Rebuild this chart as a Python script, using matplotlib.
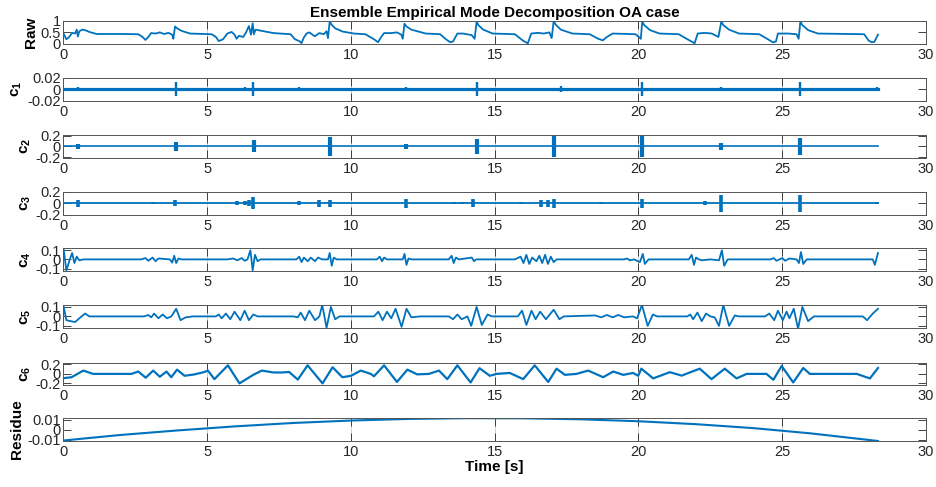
import numpy as np
import matplotlib
matplotlib.use('Agg')
import matplotlib.pyplot as plt

plt.rcParams['font.family'] = ['Liberation Sans', 'DejaVu Sans']
plt.rcParams['mathtext.fontset'] = 'custom'
plt.rcParams['mathtext.rm'] = 'Liberation Sans'
plt.rcParams['mathtext.bf'] = 'Liberation Sans:bold'

BLUE = '#0072BD'
T_END = 28.33

# ── Raw signal (vertices) ───────────────────────────────────
raw_t = [0.00, 0.10, 0.20, 0.30, 0.40, 0.46, 0.50, 0.55, 0.65, 0.75, 0.90, 1.15,
         2.00, 2.60, 2.75, 2.85, 2.95, 3.05, 3.20, 3.35, 3.50, 3.65, 3.78, 3.82,
         3.88, 3.95, 4.10, 4.40, 5.15, 5.30, 5.40, 5.55, 5.70, 5.85, 5.95, 6.02,
         6.10, 6.25, 6.35, 6.45, 6.52, 6.58, 6.62, 6.68, 6.85, 7.30, 7.90, 8.05,
         8.20, 8.28, 8.35, 8.45, 8.55, 8.74, 8.90, 9.05, 9.15, 9.20, 9.26, 9.32,
         9.45, 9.70, 10.10, 10.50, 10.80, 10.94, 11.05, 11.15, 11.40, 11.60, 11.75, 11.80,
         11.86, 11.93, 12.10, 12.60, 13.10, 13.30, 13.45, 13.55, 13.70, 13.90, 14.20, 14.30,
         14.37, 14.43, 14.60, 14.93, 15.70, 15.97, 16.15, 16.27, 16.50, 16.70, 16.90, 16.98,
         17.05, 17.12, 17.30, 17.70, 18.30, 18.60, 18.76, 18.90, 19.10, 19.90, 20.08, 20.13,
         20.20, 20.40, 20.73, 21.40, 21.70, 21.89, 21.95, 22.06, 22.30, 22.55, 22.78, 22.88,
         22.95, 23.15, 23.50, 24.20, 24.50, 24.68, 24.78, 24.85, 25.20, 25.50, 25.57, 25.63,
         25.70, 25.90, 26.24, 27.85, 28.00, 28.10, 28.20, 28.33]
raw_v = [0.45, 0.20, 0.30, 0.48, 0.45, 0.62, 0.32, 0.55, 0.62, 0.60, 0.52, 0.43,
         0.43, 0.42, 0.30, 0.17, 0.30, 0.47, 0.45, 0.50, 0.43, 0.48, 0.40, 0.22,
         0.76, 0.68, 0.57, 0.45, 0.42, 0.30, 0.12, 0.20, 0.45, 0.52, 0.40, 0.22,
         0.35, 0.30, 0.50, 0.78, 0.40, 0.90, 0.42, 0.62, 0.58, 0.47, 0.42, 0.20,
         0.12, 0.03, 0.25, 0.45, 0.50, 0.33, 0.47, 0.42, 0.55, 0.25, 1.00, 0.84,
         0.68, 0.54, 0.45, 0.42, 0.20, 0.07, 0.30, 0.47, 0.47, 0.50, 0.40, 0.22,
         0.88, 0.76, 0.62, 0.45, 0.42, 0.20, 0.07, 0.10, 0.45, 0.45, 0.38, 0.22,
         0.97, 0.82, 0.62, 0.45, 0.42, 0.15, 0.02, 0.45, 0.48, 0.45, 0.50, 0.25,
         1.00, 0.84, 0.62, 0.45, 0.42, 0.22, 0.15, 0.30, 0.45, 0.42, 0.22, 0.97,
         0.82, 0.60, 0.45, 0.42, 0.20, 0.07, 0.02, 0.45, 0.48, 0.45, 0.30, 0.97,
         0.82, 0.62, 0.45, 0.42, 0.20, 0.06, 0.10, 0.45, 0.45, 0.42, 0.22, 0.97,
         0.82, 0.60, 0.45, 0.42, 0.15, 0.07, 0.08, 0.40]

# ── c1: thin noise band with spikes ─────────────────────────
c1_burst_t = [0.49, 1.30, 2.40, 3.91, 4.70, 6.30, 6.60, 8.20, 9.90, 11.90, 13.00,
              14.39, 16.00, 17.30, 18.50, 19.60, 20.13, 21.30, 22.88, 23.80, 25.62,
              26.50, 27.40, 28.30]
c1_burst_a = [0.004, 0.002, 0.002, 0.012, 0.002, 0.004, 0.012, 0.003, 0.002, 0.003, 0.002,
              0.012, 0.002, 0.005, 0.002, 0.002, 0.012, 0.002, 0.004, 0.002, 0.012,
              0.002, 0.002, 0.003]

# ── c2: bursts ──────────────────────────────────────────────
c2_burst_t = [0.50, 3.91, 6.62, 9.27, 11.90, 14.37, 17.05, 20.13, 22.88, 25.63]
c2_burst_a = [0.05, 0.09, 0.11, 0.17, 0.05, 0.14, 0.20, 0.20, 0.06, 0.16]

# ── c3: bursts ──────────────────────────────────────────────
c3_burst_t = [0.50, 3.12, 3.88, 6.05, 6.30, 6.45, 6.60, 8.20, 8.90, 9.28, 11.90,
              13.60, 13.85, 14.25, 15.90, 16.60, 16.85, 17.05, 18.70, 20.13, 22.30,
              22.88, 25.63, 28.30]
c3_burst_a = [0.06, 0.015, 0.05, 0.03, 0.03, 0.05, 0.10, 0.03, 0.06, 0.06, 0.08,
              0.02, 0.02, 0.07, 0.015, 0.06, 0.06, 0.08, 0.015, 0.08, 0.03,
              0.15, 0.15, 0.015]

# ── c4 ──────────────────────────────────────────────────────
c4_t = [0.00, 0.10, 0.22, 0.30, 0.38, 0.46, 0.55, 0.70, 2.70, 2.85, 2.95, 3.10,
        3.20, 3.30, 3.70, 3.78, 3.85, 3.92, 4.00, 4.10, 5.70, 5.90, 6.05, 6.20,
        6.30, 6.40, 6.50, 6.58, 6.66, 6.75, 6.85, 8.10, 8.20, 8.28, 8.36, 8.50,
        8.60, 8.75, 8.85, 9.00, 9.20, 9.26, 9.33, 9.40, 9.50, 10.90, 11.00, 11.08,
        11.15, 11.25, 11.80, 11.86, 11.93, 12.00, 12.10, 13.40, 13.50, 13.57, 13.65, 13.75,
        14.20, 14.28, 14.35, 15.70, 15.90, 16.00, 16.10, 16.20, 16.30, 16.45, 16.55, 16.65,
        16.75, 16.85, 16.95, 17.05, 17.15, 19.50, 19.60, 19.70, 19.85, 20.05, 20.15, 20.22,
        20.35, 21.75, 21.85, 21.93, 22.00, 22.10, 22.20, 22.50, 22.80, 22.90, 22.98, 23.10,
        24.60, 24.70, 24.80, 25.00, 25.10, 25.25, 25.50, 25.58, 25.65, 25.73, 25.85, 28.15,
        28.22, 28.33]
c4_v = [0.12, -0.12, 0.00, 0.07, -0.04, 0.03, -0.01, 0.00, 0.00, 0.015, -0.015, 0.02,
        -0.02, 0.01, 0.00, -0.035, 0.04, -0.04, 0.01, 0.00, 0.00, 0.01, -0.01, 0.015,
        -0.015, 0.00, 0.10, -0.12, 0.05, -0.02, 0.00, 0.00, 0.03, -0.03, 0.02, -0.02,
        0.02, -0.02, 0.02, 0.00, 0.00, 0.07, -0.07, 0.02, 0.00, 0.00, 0.03, -0.02,
        0.02, 0.00, 0.00, 0.06, -0.06, 0.01, 0.00, 0.00, 0.04, -0.04, 0.02, 0.00,
        0.02, -0.02, 0.00, 0.00, 0.03, -0.04, 0.05, -0.05, 0.02, -0.02, 0.04, -0.04,
        0.05, -0.05, 0.03, -0.03, 0.00, 0.00, 0.01, -0.01, 0.00, -0.03, 0.06, -0.05,
        0.00, 0.00, 0.05, -0.06, 0.02, 0.00, -0.01, 0.00, -0.01, 0.10, -0.07, 0.00,
        0.00, 0.015, -0.015, 0.015, -0.015, 0.01, 0.00, -0.04, 0.08, -0.05, 0.00, 0.00,
        -0.06, 0.07]

# ── c5 ──────────────────────────────────────────────────────
c5_t = [0.00, 0.10, 0.25, 0.40, 0.55, 0.75, 0.90, 1.50, 2.80, 2.95, 3.05, 3.15,
        3.30, 3.45, 3.60, 3.75, 3.92, 4.07, 4.25, 4.50, 5.30, 5.40, 5.50, 5.65,
        5.80, 5.95, 6.15, 6.30, 6.45, 6.60, 6.75, 8.00, 8.15, 8.25, 8.40, 8.55,
        8.75, 8.90, 9.00, 9.15, 9.30, 9.45, 9.60, 10.80, 10.95, 11.10, 11.25, 11.40,
        11.55, 11.76, 11.93, 12.10, 12.40, 13.40, 13.55, 13.70, 13.85, 14.05, 14.18, 14.37,
        14.55, 14.75, 14.90, 15.80, 15.95, 16.10, 16.28, 16.42, 16.58, 16.78, 17.05, 17.25,
        17.40, 18.50, 18.70, 18.90, 19.10, 19.30, 19.50, 19.80, 19.95, 20.12, 20.32, 20.50,
        20.65, 21.70, 21.80, 21.90, 22.05, 22.20, 22.35, 22.50, 22.65, 22.80, 22.95, 23.15,
        23.35, 23.50, 24.40, 24.55, 24.72, 24.85, 25.02, 25.15, 25.25, 25.40, 25.55, 25.70,
        25.90, 26.10, 27.80, 27.95, 28.15, 28.33]
c5_v = [0.11, -0.04, -0.05, -0.06, -0.02, 0.03, 0.00, 0.00, 0.00, 0.015, -0.01, 0.03,
        -0.02, 0.02, -0.02, 0.00, 0.08, -0.04, -0.01, 0.00, 0.00, 0.02, -0.02, 0.03,
        -0.03, 0.05, -0.04, 0.06, -0.04, 0.02, 0.00, 0.00, -0.01, 0.04, -0.04, 0.06,
        -0.04, 0.00, 0.12, -0.12, 0.10, -0.03, 0.00, 0.00, 0.05, -0.04, 0.05, -0.02,
        0.08, -0.11, 0.08, -0.01, 0.00, 0.00, -0.03, 0.02, -0.03, 0.00, -0.10, 0.10,
        -0.09, 0.02, 0.00, 0.00, 0.06, -0.09, 0.06, -0.03, 0.05, -0.03, 0.07, -0.03,
        0.00, 0.01, -0.01, 0.015, -0.01, 0.015, -0.01, 0.00, -0.02, 0.12, -0.10, 0.02,
        0.00, 0.00, 0.02, -0.03, 0.04, -0.05, 0.03, 0.00, -0.01, -0.10, 0.12, -0.10,
        0.01, 0.00, 0.00, 0.03, -0.04, 0.06, -0.04, 0.05, -0.02, 0.08, -0.13, 0.10,
        -0.05, 0.00, 0.00, -0.04, 0.03, 0.08]

# ── c6 ──────────────────────────────────────────────────────
c6_t = [0.00, 0.28, 0.69, 1.03, 2.36, 2.60, 2.86, 3.12, 3.35, 3.58, 3.75, 3.95,
        4.21, 4.56, 4.90, 5.02, 5.25, 5.72, 6.12, 6.60, 6.90, 7.30, 7.60, 7.85,
        8.15, 8.49, 9.01, 9.36, 9.70, 10.00, 10.34, 10.69, 10.80, 11.15, 11.60, 11.96,
        12.30, 12.71, 13.06, 13.35, 13.70, 14.16, 14.47, 14.83, 15.06, 15.52, 15.99, 16.39,
        16.86, 17.15, 17.44, 17.84, 18.25, 18.77, 19.12, 19.47, 19.81, 19.99, 20.10, 20.51,
        21.09, 21.50, 22.13, 22.54, 23.00, 23.41, 23.76, 24.45, 24.69, 24.98, 25.38, 25.73,
        25.96, 27.59, 28.05, 28.33]
c6_v = [-0.09, -0.07, 0.07, 0.00, 0.00, 0.05, -0.08, 0.07, -0.06, 0.05, -0.07, 0.09,
        -0.04, -0.01, 0.04, 0.07, -0.11, 0.18, -0.20, -0.02, 0.07, 0.03, 0.03, 0.04,
        -0.12, 0.18, -0.20, 0.14, -0.07, -0.04, 0.07, 0.00, -0.05, 0.18, -0.17, 0.09,
        -0.01, 0.00, 0.07, -0.11, 0.18, -0.18, 0.12, -0.04, 0.00, 0.02, -0.11, 0.18,
        -0.17, 0.11, -0.02, 0.00, 0.07, -0.07, 0.05, -0.02, 0.02, -0.04, 0.11, -0.095,
        0.036, -0.036, 0.11, -0.11, 0.11, -0.095, 0.00, 0.00, -0.124, 0.167, -0.18, 0.124,
        0.00, 0.00, -0.095, 0.124]

# ── Residue ─────────────────────────────────────────────────
res_t = [0.0, 2.0, 4.0, 6.0, 8.0, 10.0, 12.0, 14.0, 16.0, 18.0, 20.0, 22.0, 24.0, 26.0, 28.33]
res_v = [-0.0105, -0.005, -0.0005, 0.0035, 0.0068, 0.0092, 0.0108, 0.0115, 0.0114,
         0.0104, 0.0085, 0.0056, 0.0017, -0.0035, -0.011]

labels = ['Raw', r'$\mathbf{c_1}$', r'$\mathbf{c_2}$', r'$\mathbf{c_3}$',
          r'$\mathbf{c_4}$', r'$\mathbf{c_5}$', r'$\mathbf{c_6}$', 'Residue']
ylims = [(0, 1), (-0.02, 0.02), (-0.21, 0.21), (-0.2, 0.2), (-0.125, 0.125),
         (-0.12, 0.12), (-0.24, 0.24), (-0.0108, 0.0117)]
yticks = [[0, 0.5, 1], [-0.02, 0, 0.02], [-0.2, 0, 0.2], [-0.2, 0, 0.2],
          [-0.1, 0, 0.1], [-0.1, 0, 0.1], [-0.2, 0, 0.2], [-0.01, 0, 0.01]]
yticklabels = [['0', '0.5', '1'], ['-0.02', '0', '0.02'], ['-0.2', '0', '0.2'],
               ['-0.2', '0', '0.2'], ['-0.1', '0', '0.1'], ['-0.1', '0', '0.1'],
               ['-0.2', '0', '0.2'], ['-0.01', '0', '0.01']]

W, H = 937, 487
fig = plt.figure(figsize=(W / 100, H / 100), dpi=100)

left_px, right_px = 63.5, 926
tops_px = [21, 77.7, 135, 191.7, 248, 305, 362.5, 418]
h_px = 22.8

axes = []
for i, top in enumerate(tops_px):
    ax = fig.add_axes([left_px / W, 1 - (top + h_px) / H,
                       (right_px - left_px) / W, h_px / H])
    axes.append(ax)

lw = 1.3
axes[0].plot(raw_t, raw_v, color=BLUE, lw=lw)

axes[1].plot([0, T_END], [0, 0], color=BLUE, lw=2.3)
axes[1].vlines(c1_burst_t, -np.array(c1_burst_a), c1_burst_a, color=BLUE, lw=1.7)

axes[2].plot([0, T_END], [0, 0], color=BLUE, lw=1.2)
axes[2].vlines(c2_burst_t, -np.array(c2_burst_a), c2_burst_a, color=BLUE, lw=3.0)

axes[3].plot([0, T_END], [0, 0], color=BLUE, lw=1.3)
axes[3].vlines(c3_burst_t, -np.array(c3_burst_a), c3_burst_a, color=BLUE, lw=2.6)

axes[4].plot(c4_t, c4_v, color=BLUE, lw=lw)
axes[5].plot(c5_t, c5_v, color=BLUE, lw=lw)
axes[6].plot(c6_t, c6_v, color=BLUE, lw=1.6, solid_joinstyle='round')
axes[7].plot(res_t, res_v, color=BLUE, lw=1.5)

for i, ax in enumerate(axes):
    ax.set_xlim(0, 30)
    ax.set_ylim(*ylims[i])
    ax.set_xticks([0, 5, 10, 15, 20, 25, 30])
    ax.set_yticks(yticks[i])
    ax.set_yticklabels(yticklabels[i])
    ax.tick_params(direction='in', length=5.5, width=0.6, top=True, right=True,
                   labelsize=10.5, labelcolor='#262626', color='#262626', pad=3)
    ax.tick_params(axis='y', pad=2)
    ax.grid(axis='x', color='#c8c8c8', lw=0.6)
    ax.set_axisbelow(True)
    for sp in ax.spines.values():
        sp.set_color('#555555')
        sp.set_linewidth(0.7)
    ax.set_ylabel(labels[i], fontsize=11, fontweight='bold', labelpad=2)

axes[0].set_title('Ensemble Empirical Mode Decomposition OA case',
                  fontsize=11, fontweight='bold', pad=3)
axes[-1].set_xlabel('Time [s]', fontsize=11, fontweight='bold', labelpad=1)

fig.savefig('out.png', dpi=100)
